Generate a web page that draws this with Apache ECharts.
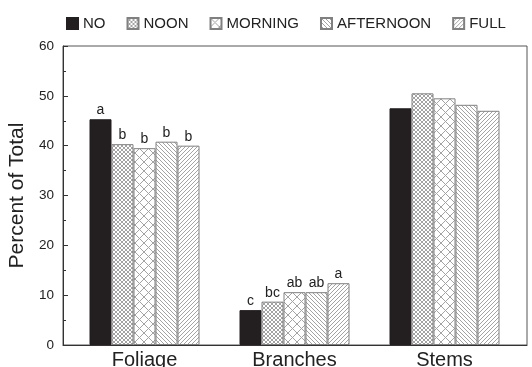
<!DOCTYPE html>
<html>
<head>
<meta charset="utf-8">
<script src="https://cdn.jsdelivr.net/npm/echarts@6/dist/echarts.min.js"></script>
<style>
  html, body { margin: 0; padding: 0; background: #fff; }
  #chart { width: 532px; height: 367px; }
</style>
</head>
<body>
<div id="chart"></div>
<script>
// Biomass partitioning by plant part under each shading treatment
const categories = ['Foliage', 'Branches', 'Stems'];
const seriesNames = ['NO', 'NOON', 'MORNING', 'AFTERNOON', 'FULL'];

const noValues        = [45.3, 7.0, 47.5];
const noonValues      = [40.3, 8.7, 50.5];
const morningValues   = [39.5, 10.6, 49.5];
const afternoonValues = [40.8, 10.6, 48.2];
const fullValues      = [40.0, 12.4, 47.0];

// Significance letters above the bars ('' = none shown)
const noLetters        = ['a', 'c', ''];
const noonLetters      = ['b', 'bc', ''];
const morningLetters   = ['b', 'ab', ''];
const afternoonLetters = ['b', 'ab', ''];
const fullLetters      = ['b', 'a', ''];

const yTicks = { min: 0, max: 60, interval: 10 };

// Tileable hatch fills drawn on small canvases
function hatch(size, dirs, color) {
  const c = document.createElement('canvas');
  c.width = size; c.height = size;
  const ctx = c.getContext('2d');
  ctx.fillStyle = '#fff';
  ctx.fillRect(0, 0, size, size);
  ctx.strokeStyle = color;
  ctx.lineWidth = 1;
  const s = size;
  dirs.forEach(d => {
    ctx.beginPath();
    if (d === '\\') {
      ctx.moveTo(-1, -1); ctx.lineTo(s + 1, s + 1);
      ctx.moveTo(-1, s - 1); ctx.lineTo(1, s + 1);
      ctx.moveTo(s - 1, -1); ctx.lineTo(s + 1, 1);
    } else {
      ctx.moveTo(s + 1, -1); ctx.lineTo(-1, s + 1);
      ctx.moveTo(1, -1); ctx.lineTo(-1, 1);
      ctx.moveTo(s + 1, s - 1); ctx.lineTo(s - 1, s + 1);
    }
    ctx.stroke();
  });
  return { image: c, repeat: 'repeat' };
}

const hatchColor = '#a3a3a3';
const fills = [
  '#231f20',
  hatch(4, ['\\', '/'], hatchColor),
  hatch(9, ['\\', '/'], hatchColor),
  hatch(4, ['\\'], hatchColor),
  hatch(4, ['/'], hatchColor)
];
const valueSets = [noValues, noonValues, morningValues, afternoonValues, fullValues];
const letterSets = [noLetters, noonLetters, morningLetters, afternoonLetters, fullLetters];

const series = seriesNames.map((name, i) => ({
  name: name,
  type: 'bar',
  xAxisIndex: 1,
  yAxisIndex: 1,
  data: valueSets[i],
  barWidth: 22,
  barGap: '0%',
  itemStyle: {
    color: fills[i],
    borderColor: i === 0 ? '#231f20' : '#808080',
    borderWidth: 1
  },
  label: {
    show: true,
    position: 'top',
    distance: 2,
    fontFamily: 'Liberation Sans, Arial, sans-serif',
    fontSize: 14,
    color: '#222',
    formatter: p => letterSets[i][p.dataIndex]
  }
}));

const chart = echarts.init(document.getElementById('chart'), null, { renderer: 'canvas' });
chart.setOption({
  animation: false,
  backgroundColor: '#fff',
  textStyle: { fontFamily: 'Liberation Sans, Arial, sans-serif' },
  legend: {
    data: seriesNames.map(n => ({ name: n, icon: 'rect' })),
    left: 61,
    top: 11,
    itemWidth: 11,
    itemHeight: 11,
    itemGap: 21,
    textStyle: { fontSize: 15, color: '#222' }
  },
  grid: [
    { left: 63, right: 5, top: 46, bottom: 22, outerBoundsMode: 'none', containLabel: false,
      show: true, borderColor: '#555', borderWidth: 1, backgroundColor: 'transparent' },
    { left: 69.5, right: 12.5, top: 46, bottom: 22, outerBoundsMode: 'none', containLabel: false }
  ],
  xAxis: [
    {
      gridIndex: 0, type: 'category', data: categories,
      axisLine: { show: true, lineStyle: { color: '#333', width: 1 } },
      axisTick: { show: false }, axisLabel: { show: false }
    },
    {
      gridIndex: 1, type: 'category', data: categories,
      axisLine: { show: false }, axisTick: { show: false },
      axisLabel: { fontSize: 20, color: '#222', margin: 5 }
    }
  ],
  yAxis: [
    {
      gridIndex: 0, type: 'value', min: yTicks.min, max: yTicks.max, interval: yTicks.interval,
      name: 'Percent of Total', nameLocation: 'middle', nameGap: 31,
      nameTextStyle: { fontSize: 21, color: '#222' },
      axisLine: { show: true, lineStyle: { color: '#333', width: 1 } },
      axisTick: { show: true, inside: true, length: 5, lineStyle: { color: '#333' } },
      minorTick: { show: true, splitNumber: 2, length: 3, lineStyle: { color: '#333' } },
      axisLabel: { fontSize: 13.5, color: '#222', margin: 9 },
      splitLine: { show: false }
    },
    {
      gridIndex: 1, type: 'value', min: yTicks.min, max: yTicks.max, interval: yTicks.interval,
      show: false, splitLine: { show: false }
    }
  ],
  series: series
});
</script>
</body>
</html>
